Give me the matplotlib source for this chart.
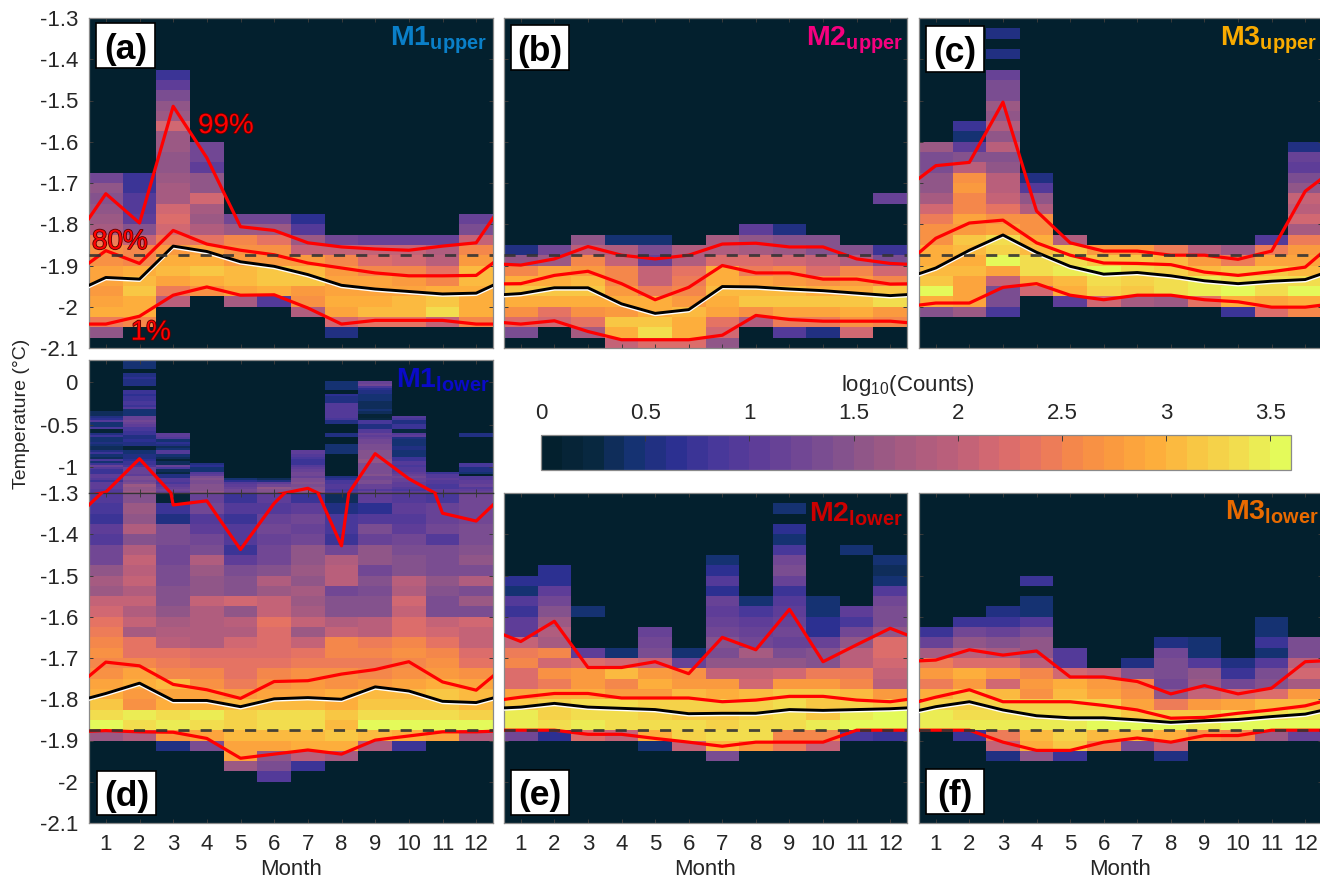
# monthly temperature histograms for the six moorings, log10 counts per 0.025 degC bin
import numpy as np
import matplotlib
matplotlib.use('Agg')
import matplotlib.pyplot as plt
import matplotlib.patheffects as pe
from matplotlib.colors import LinearSegmentedColormap, Normalize
from matplotlib.cm import ScalarMappable
from matplotlib.patches import Rectangle

plt.rcParams['font.family'] = ['Liberation Sans', 'DejaVu Sans']
plt.rcParams['mathtext.fontset'] = 'custom'
plt.rcParams['mathtext.rm'] = 'Liberation Sans'
plt.rcParams['mathtext.bf'] = 'Liberation Sans:bold'
plt.rcParams['mathtext.default'] = 'regular'

months = [1, 2, 3, 4, 5, 6, 7, 8, 9, 10, 11, 12]
freezing = -1.875

# histogram columns: first filled row of each month (row 0 is the top bin) and
# the colour level of the rows below it, level = 10 * log10(counts)
a_top = [15, 15, 5, 12, 19, 19, 19, 21, 21, 21, 21, 19]
a_levels = [
    [12, 15, 14, 15, 16, 17, 24, 26, 26, 28, 28, 27, 28, 29, 24, 15],
    [7, 7, 9, 9, 10, 14, 20, 25, 25, 29, 30, 31, 29, 29, 25],
    [7, 10, 13, 15, 16, 21, 16, 16, 15, 15, 16, 17, 17, 21, 22, 21, 24, 27, 29, 30, 28, 24, 19],
    [12, 12, 10, 15, 15, 21, 17, 16, 18, 23, 28, 29, 31, 29, 26],
    [12, 16, 25, 26, 27, 30, 30, 28, 17],
    [12, 16, 23, 26, 27, 31, 31, 29, 9],
    [6, 9, 16, 20, 27, 30, 31, 27, 26, 18],
    [12, 20, 25, 27, 28, 28, 29, 28, 21, 5],
    [11, 20, 22, 25, 28, 28, 29, 30, 23],
    [11, 20, 21, 25, 27, 28, 30, 30, 23],
    [11, 18, 19, 23, 25, 29, 31, 33, 20],
    [11, 13, 20, 25, 27, 30, 30, 29, 29, 29, 25],
]
a_p99 = [-1.726, -1.797, -1.514, -1.639, -1.806, -1.815, -1.845, -1.855, -1.860, -1.863, -1.853, -1.845]
a_p80 = [-1.864, -1.895, -1.815, -1.848, -1.863, -1.874, -1.894, -1.906, -1.918, -1.925, -1.925, -1.924]
a_mid = [-1.929, -1.933, -1.853, -1.866, -1.891, -1.902, -1.922, -1.948, -1.957, -1.963, -1.969, -1.967]
a_p01 = [-2.042, -2.023, -1.972, -1.952, -1.972, -1.971, -2.003, -2.042, -2.033, -2.033, -2.033, -2.042]

b_top = [22, 22, 21, 21, 21, 22, 21, 20, 20, 21, 22, 17]
b_levels = [
    [5, 15, 25, 29, 31, 29, 26, 22, 13],
    [12, 16, 28, 29, 31, 29, 23, 21],
    [15, 19, 25, 27, 30, 31, 29, 26, 23, 17],
    [4, 18, 20, 25, 25, 27, 29, 27, 31, 29, 20],
    [4, 13, 11, 20, 20, 24, 29, 29, 31, 33, 22],
    [18, 18, 23, 24, 25, 27, 30, 29, 29, 22],
    [17, 18, 22, 29, 29, 30, 29, 28, 23, 21, 15],
    [10, 15, 17, 22, 24, 28, 30, 31, 26, 18],
    [5, 14, 16, 21, 25, 27, 30, 31, 28, 24, 9],
    [14, 14, 20, 22, 26, 29, 31, 28, 24, 5],
    [14, 18, 25, 27, 29, 31, 29, 26, 21],
    [11, 0, 0, 0, 0, 7, 13, 21, 25, 31, 33, 27, 25],
]
b_p99 = [-1.899, -1.884, -1.854, -1.875, -1.884, -1.875, -1.848, -1.846, -1.855, -1.855, -1.884, -1.895]
b_p80 = [-1.944, -1.924, -1.914, -1.944, -1.983, -1.953, -1.900, -1.918, -1.918, -1.933, -1.933, -1.945]
b_mid = [-1.968, -1.954, -1.954, -1.993, -2.016, -2.007, -1.951, -1.952, -1.957, -1.961, -1.967, -1.973]
b_p01 = [-2.042, -2.034, -2.060, -2.080, -2.080, -2.080, -2.069, -2.021, -2.031, -2.035, -2.035, -2.035]

c_top = [12, 10, 1, 15, 21, 22, 22, 22, 22, 22, 21, 12]
c_levels = [
    [16, 13, 13, 15, 15, 17, 21, 24, 26, 26, 29, 29, 30, 31, 35, 29, 14],
    [7, 4, 10, 14, 19, 26, 27, 25, 25, 28, 27, 31, 30, 29, 30, 28, 28, 28, 16],
    [5, 0, 5, 0, 11, 13, 13, 16, 15, 18, 15, 19, 14, 15, 19, 19, 20, 23, 26, 28, 33, 32, 35, 28, 20, 13, 13, 8],
    [5, 9, 15, 18, 26, 26, 29, 30, 33, 33, 28, 21],
    [18, 31, 33, 34, 30, 29, 10],
    [27, 31, 35, 33, 32, 21],
    [27, 31, 33, 32, 31, 17],
    [24, 30, 32, 33, 33, 16],
    [19, 27, 30, 34, 34, 23],
    [16, 24, 31, 33, 36, 29, 7],
    [9, 24, 28, 31, 33, 33, 28, 22],
    [5, 11, 10, 13, 15, 20, 19, 21, 17, 24, 27, 28, 30, 33, 36, 29, 25],
]
c_p99 = [-1.658, -1.650, -1.504, -1.768, -1.845, -1.865, -1.865, -1.875, -1.875, -1.885, -1.865, -1.720]
c_p80 = [-1.834, -1.797, -1.790, -1.845, -1.875, -1.894, -1.895, -1.898, -1.916, -1.924, -1.915, -1.904]
c_mid = [-1.906, -1.863, -1.826, -1.868, -1.902, -1.921, -1.917, -1.925, -1.937, -1.944, -1.938, -1.934]
c_p01 = [-1.991, -1.991, -1.953, -1.944, -1.972, -1.983, -1.972, -1.972, -1.983, -1.988, -2.001, -2.001]

# panel d has a compressed part above -1.3 with its own rows
d_hi_top = [24, 0, 34, 48, 55, 55, 42, 10, 10, 26, 52, 34]
d_hi_levels = [
    [3, 3, 5, 6, 9, 4, 4, 8, 1, 1, 5, 7, 4, 4, 5, 4, 3, 3, 5, 7, 4, 3, 8, 4, 7, 11, 9, 7, 7, 10, 10, 9, 7, 10, 10, 10, 9, 9],
    [4, 4, 4, 4, 0, 0, 5, 5, 6, 5, 5, 5, 0, 0, 7, 7, 6, 7, 7, 8, 8, 7, 9, 4, 4, 4, 11, 11, 12, 11, 10, 8, 8, 7, 7, 5, 5, 6, 5, 5, 1, 1, 4, 4, 5, 5, 6, 7, 7, 8, 11, 11, 11, 10, 13, 13, 12, 13, 16, 15, 15, 16],
    [10, 10, 9, 4, 6, 5, 3, 4, 9, 9, 4, 3, 1, 3, 3, 11, 8, 3, 2, 5, 5, 9, 9, 8, 10, 11, 12, 11],
    [5, 6, 4, 4, 9, 10, 13, 14, 13, 13, 14, 14, 14, 15],
    [4, 6, 9, 10, 11, 12, 12],
    [3, 5, 10, 12, 15, 14, 14],
    [10, 10, 9, 8, 7, 7, 7, 9, 10, 11, 12, 12, 11, 13, 13, 14, 13, 14, 14, 15],
    [4, 4, 4, 4, 0, 0, 6, 5, 5, 5, 9, 9, 9, 9, 9, 9, 9, 8, 5, 5, 0, 0, 0, 0, 5, 5, 0, 0, 0, 4, 4, 4, 4, 4, 0, 0, 0, 0, 0, 0, 0, 0, 0, 0, 5, 6, 8, 8, 9, 9, 8, 9],
    [11, 12, 8, 6, 5, 5, 4, 4, 4, 3, 3, 3, 3, 4, 3, 1, 1, 2, 8, 8, 5, 5, 9, 9, 11, 10, 11, 12, 12, 13, 13, 13, 14, 14, 14, 14, 15, 15, 13, 13, 13, 13, 13, 14, 12, 12, 13, 13, 11, 11, 9, 11],
    [9, 8, 5, 5, 7, 7, 2, 2, 9, 10, 5, 4, 4, 4, 5, 5, 4, 4, 4, 7, 7, 9, 9, 8, 9, 9, 10, 11, 12, 11, 11, 10, 10, 9, 8, 10],
    [7, 9, 9, 10, 9, 9, 8, 8, 10, 10],
    [5, 5, 0, 0, 0, 0, 0, 0, 0, 0, 0, 0, 0, 0, 8, 8, 5, 5, 4, 0, 9, 9, 10, 10, 11, 9, 10, 11],
]
d_top = [0, 0, 0, 0, 0, 0, 0, 0, 0, 0, 0, 0]
d_levels = [
    [9, 8, 7, 10, 9, 12, 12, 15, 17, 16, 20, 21, 23, 24, 25, 26, 25, 26, 28, 29, 31, 33, 35, 16],
    [14, 16, 15, 18, 14, 18, 20, 19, 20, 18, 20, 18, 20, 17, 23, 23, 25, 28, 29, 27, 26, 34, 33, 18],
    [1, 7, 5, 13, 13, 12, 12, 13, 13, 14, 14, 15, 17, 18, 19, 23, 24, 25, 30, 28, 29, 33, 34, 27, 5],
    [11, 12, 9, 10, 12, 13, 18, 16, 15, 15, 20, 18, 18, 18, 18, 22, 23, 25, 26, 28, 29, 34, 33, 28, 13],
    [7, 9, 7, 9, 9, 7, 10, 13, 14, 14, 21, 15, 19, 18, 21, 22, 23, 23, 24, 27, 30, 32, 32, 30, 28, 28, 16],
    [10, 9, 11, 12, 11, 12, 12, 14, 18, 16, 20, 20, 23, 22, 22, 22, 23, 25, 26, 28, 30, 33, 33, 30, 28, 15, 13, 9],
    [7, 10, 12, 11, 12, 15, 15, 16, 15, 17, 16, 17, 20, 16, 20, 23, 24, 26, 27, 28, 30, 33, 33, 30, 29, 19, 7],
    [3, 5, 8, 8, 7, 12, 18, 19, 19, 12, 14, 14, 18, 20, 25, 25, 24, 26, 26, 29, 29, 31, 30, 31, 29, 17],
    [10, 6, 9, 13, 11, 15, 15, 12, 14, 13, 14, 14, 19, 19, 24, 25, 24, 25, 27, 30, 31, 33, 35, 30, 18],
    [9, 10, 9, 10, 12, 13, 14, 14, 19, 18, 21, 20, 22, 22, 25, 26, 25, 26, 28, 30, 31, 33, 35, 29, 7],
    [8, 11, 11, 12, 9, 13, 13, 13, 15, 14, 13, 13, 20, 21, 23, 25, 26, 27, 29, 31, 31, 33, 36, 28],
    [12, 12, 12, 13, 13, 14, 15, 13, 18, 13, 16, 13, 21, 20, 20, 22, 23, 26, 28, 30, 30, 32, 36, 18],
]
d_p99 = [-1.29, -0.898, -1.329, -1.319, -1.437, -1.325, -1.245, -1.428, -0.839, -1.133, -1.349, -1.368]
d_p80 = [-1.710, -1.719, -1.764, -1.777, -1.798, -1.757, -1.755, -1.739, -1.728, -1.709, -1.758, -1.778]
d_mid = [-1.786, -1.761, -1.803, -1.803, -1.818, -1.799, -1.796, -1.800, -1.770, -1.780, -1.805, -1.808]
d_p01 = [-1.876, -1.879, -1.880, -1.895, -1.943, -1.933, -1.923, -1.933, -1.899, -1.889, -1.879, -1.879]

e_top = [8, 7, 11, 15, 13, 15, 6, 10, 1, 10, 5, 6]
e_levels = [
    [6, 4, 9, 7, 10, 10, 20, 24, 25, 22, 22, 28, 31, 34, 34, 12],
    [6, 6, 10, 12, 14, 16, 18, 17, 25, 21, 26, 24, 29, 32, 32, 33, 6],
    [4, 0, 0, 0, 10, 22, 27, 27, 29, 33, 33, 34, 22],
    [4, 21, 30, 25, 27, 33, 33, 33, 20],
    [11, 12, 13, 20, 27, 29, 27, 32, 32, 33, 29, 4],
    [4, 11, 26, 27, 30, 32, 31, 33, 32, 20],
    [4, 6, 9, 6, 11, 10, 11, 12, 14, 13, 15, 20, 27, 29, 32, 31, 32, 33, 30, 13],
    [4, 8, 10, 11, 12, 17, 15, 20, 21, 30, 32, 32, 33, 33, 27],
    [4, 0, 6, 4, 8, 12, 13, 11, 7, 9, 10, 11, 12, 11, 13, 15, 21, 27, 31, 33, 33, 33, 25, 24],
    [4, 4, 6, 6, 11, 14, 14, 24, 27, 31, 31, 31, 34, 25, 20],
    [4, 0, 0, 0, 0, 0, 10, 8, 12, 15, 19, 19, 24, 25, 30, 32, 34, 35, 8],
    [4, 3, 4, 9, 12, 13, 13, 15, 22, 22, 21, 20, 19, 27, 31, 35, 36, 7],
]
e_p99 = [-1.660, -1.611, -1.723, -1.723, -1.709, -1.738, -1.650, -1.680, -1.582, -1.709, -1.668, -1.628]
e_p80 = [-1.795, -1.786, -1.786, -1.797, -1.797, -1.797, -1.806, -1.802, -1.793, -1.793, -1.802, -1.806]
e_mid = [-1.819, -1.810, -1.819, -1.822, -1.825, -1.835, -1.834, -1.834, -1.825, -1.827, -1.825, -1.823]
e_p01 = [-1.875, -1.875, -1.885, -1.885, -1.895, -1.904, -1.914, -1.904, -1.904, -1.904, -1.875, -1.875]

f_top = [13, 12, 11, 8, 15, 17, 16, 14, 14, 16, 12, 14]
f_levels = [
    [7, 11, 17, 24, 27, 24, 29, 32, 34, 34],
    [7, 12, 15, 19, 22, 29, 27, 31, 32, 33, 34, 7],
    [5, 7, 11, 14, 17, 22, 27, 21, 30, 32, 33, 34, 24, 20, 5],
    [7, 0, 4, 4, 9, 13, 15, 15, 19, 25, 27, 26, 32, 33, 34, 30, 29, 15],
    [9, 9, 21, 29, 30, 32, 33, 34, 32, 31, 7],
    [20, 27, 28, 32, 33, 36, 30, 25],
    [5, 14, 25, 26, 28, 31, 35, 30, 13],
    [5, 12, 13, 13, 12, 15, 24, 31, 35, 29, 20, 5],
    [4, 4, 9, 15, 16, 20, 27, 31, 34, 26],
    [5, 7, 12, 21, 28, 33, 35, 25],
    [4, 4, 7, 4, 9, 13, 14, 22, 30, 33, 35, 16],
    [13, 13, 19, 21, 17, 27, 30, 34, 35, 11],
]
f_p99 = [-1.705, -1.680, -1.693, -1.683, -1.746, -1.746, -1.757, -1.787, -1.767, -1.787, -1.773, -1.709]
f_p80 = [-1.795, -1.777, -1.806, -1.806, -1.806, -1.815, -1.826, -1.846, -1.844, -1.834, -1.826, -1.816]
f_mid = [-1.818, -1.806, -1.826, -1.840, -1.845, -1.845, -1.850, -1.856, -1.852, -1.849, -1.842, -1.836]
f_p01 = [-1.875, -1.875, -1.904, -1.924, -1.924, -1.904, -1.894, -1.904, -1.888, -1.888, -1.875, -1.875]

low_ticks = [-1.3, -1.4, -1.5, -1.6, -1.7, -1.8, -1.9, -2, -2.1]
hi_ticks = [0, -0.5, -1]
cbar_ticks = [0, 0.5, 1, 1.5, 2, 2.5, 3, 3.5]

cmap_colors = ['#03202e', '#08283f', '#143270', '#2a2f90', '#46379a', '#5b3c99', '#6e4595',
               '#80508f', '#965885', '#ac5c80', '#bd607a', '#d66a70', '#e87560', '#f68a48',
               '#fb9c3e', '#fdb03c', '#f8c845', '#f2de4e', '#e4fa5a']
thermal = LinearSegmentedColormap.from_list('thermal36', cmap_colors, N=36)

W, H = 1320, 881
fig = plt.figure(figsize=(13.2, 8.81), dpi=100)


def px_axes(left, top, right, bottom):
    return fig.add_axes([left / W, 1 - bottom / H, (right - left) / W, (bottom - top) / H])


def draw_hist(ax, tops, levels, y_hi, y_lo, n_rows):
    # rows run from the top of the axis down
    grid = np.zeros((n_rows, 12))
    for m in range(12):
        vals = levels[m]
        grid[tops[m]:tops[m] + len(vals), m] = vals
    x_edges = np.arange(0.5, 13, 1)
    y_edges = np.linspace(y_hi, y_lo, n_rows + 1)
    # + 0.5 puts a level in the middle of its colour band
    ax.pcolormesh(x_edges, y_edges, (grid + 0.5) / 10, cmap=thermal, vmin=0, vmax=3.6, shading='flat')
    ax.set_xlim(0.5, 12.5)
    ax.set_ylim(y_lo, y_hi)
    ax.set_xticks(months)
    ax.tick_params(direction='in', top=True, right=True, length=3, width=0.7, color='#3a3a3a',
                   labelleft=False, labelbottom=False, pad=8, labelsize=16, labelcolor='#262626')
    for s in ax.spines.values():
        s.set_color('#8a8a8a')
        s.set_linewidth(0.9)


def draw_lines(ax, p99, p80, mid, p01):
    # the year wraps: December sits left of January and January right of December
    xs = [0] + months + [13]
    for v in (p99, p80, p01):
        ax.plot(xs, [v[-1]] + v + [v[0]], color='#ff0000', lw=2.3, zorder=3)
    ax.plot(xs, [mid[-1]] + mid + [mid[0]], color='black', lw=2.1, zorder=4,
            path_effects=[pe.Stroke(linewidth=2.5, foreground='white', offset=(0, -0.8)), pe.Normal()])
    ax.axhline(freezing, color='#333333', lw=2, ls=(0, (4, 4)), alpha=0.9, zorder=5)


def panel_tag(ax, text, left, top, right, bottom):
    fig.add_artist(Rectangle((left / W, 1 - bottom / H), (right - left) / W, (bottom - top) / H,
                             transform=fig.transFigure, fc='white', ec='black', lw=1.2, zorder=6))
    fig.text((left + right) / 2 / W, 1 - (top + bottom) / 2 / H, text, fontsize=25.5, fontweight='bold',
             ha='center', va='center_baseline', color='black', zorder=7)


def site_label(text, color, right, baseline):
    fig.text(right / W, 1 - baseline / H, r'$\mathbf{' + text + '}$', color=color, fontsize=20.5,
             ha='right', va='baseline', zorder=7)


ax_a = px_axes(89, 18, 493, 348)
ax_b = px_axes(504, 18, 907, 348)
ax_c = px_axes(919, 18, 1322, 348)
ax_e = px_axes(504, 493, 907, 823)
ax_f = px_axes(919, 493, 1322, 823)
ax_d_hi = px_axes(89, 360, 493, 493)
ax_d = px_axes(89, 493, 493, 823)

draw_hist(ax_a, a_top, a_levels, -1.3, -2.1, 32)
draw_hist(ax_b, b_top, b_levels, -1.3, -2.1, 32)
draw_hist(ax_c, c_top, c_levels, -1.3, -2.1, 32)
draw_hist(ax_d, d_top, d_levels, -1.3, -2.1, 32)
draw_hist(ax_e, e_top, e_levels, -1.3, -2.1, 32)
draw_hist(ax_f, f_top, f_levels, -1.3, -2.1, 32)
draw_hist(ax_d_hi, d_hi_top, d_hi_levels, 0.26, -1.3, 62)

draw_lines(ax_a, a_p99, a_p80, a_mid, a_p01)
draw_lines(ax_b, b_p99, b_p80, b_mid, b_p01)
draw_lines(ax_c, c_p99, c_p80, c_mid, c_p01)
draw_lines(ax_d, d_p99, d_p80, d_mid, d_p01)
draw_lines(ax_e, e_p99, e_p80, e_mid, e_p01)
draw_lines(ax_f, f_p99, f_p80, f_mid, f_p01)
# only the warm percentile reaches the compressed part of panel d
ax_d_hi.plot([0] + months + [13], [d_p99[-1]] + d_p99 + [d_p99[0]], color='#ff0000', lw=2.3, zorder=3)
# dark seam between the two parts of panel d
ax_d.spines['top'].set_color('#333333')
ax_d_hi.spines['bottom'].set_color('#333333')

for ax in (ax_a, ax_b, ax_c, ax_d, ax_e, ax_f):
    ax.set_yticks(low_ticks)
for ax in (ax_a, ax_d):
    ax.set_yticklabels([str(t) for t in low_ticks])
    ax.tick_params(labelleft=True)
ax_d_hi.set_yticks(hi_ticks)
ax_d_hi.set_yticklabels([str(t) for t in hi_ticks])
ax_d_hi.tick_params(labelleft=True)

for ax in (ax_d, ax_e, ax_f):
    ax.set_xticklabels([str(m) for m in months])
    ax.tick_params(labelbottom=True)
    ax.set_xlabel('Month', fontsize=16, color='#262626', labelpad=3)

fig.text(22 / W, 1 - 414 / H, 'Temperature (°C)', rotation=90, fontsize=14, ha='center', va='center',
         color='#262626')

# percentile labels on panel a
outline = [pe.withStroke(linewidth=1.2, foreground='#5a0000')]
ax_a.text(3.74, -1.579, '99%', color='#ff0000', fontsize=20, path_effects=outline, zorder=6)
ax_a.text(0.59, -1.86, '80%', color='#ff0000', fontsize=20, path_effects=outline, zorder=6)
ax_a.text(1.74, -2.08, '1%', color='#ff0000', fontsize=20, path_effects=outline, zorder=6)

panel_tag(ax_a, '(a)', 96, 23, 155, 68)
panel_tag(ax_b, '(b)', 511, 25, 569, 70)
panel_tag(ax_c, '(c)', 926, 26, 984, 72)
panel_tag(ax_d, '(d)', 97, 771, 156, 815)
panel_tag(ax_e, '(e)', 511, 770, 569, 815)
panel_tag(ax_f, '(f)', 926, 769, 984, 814)

site_label('M1_{upper}', '#0a7fc8', 487, 45)
site_label('M2_{upper}', '#f5007e', 903, 46)
site_label('M3_{upper}', '#f9ab00', 1317, 46)
site_label('M1_{lower}', '#0a0ac8', 490, 388)
site_label('M2_{lower}', '#cc0000', 903, 522)
site_label('M3_{lower}', '#e86a00', 1319, 520)

# colour bar between the panels
cax = px_axes(541, 435, 1291, 470)
cb = fig.colorbar(ScalarMappable(Normalize(0, 3.6), thermal), cax=cax, orientation='horizontal',
                  ticklocation='top')
cb.set_ticks(cbar_ticks)
cb.set_ticklabels([str(t) for t in cbar_ticks])
cb.ax.tick_params(direction='in', length=4, width=0.7, color='#3a3a3a', labelsize=16, pad=8,
                  labelcolor='#262626')
cb.outline.set_edgecolor('#8a8a8a')
cb.outline.set_linewidth(0.9)
fig.text(908 / W, 1 - 385 / H, 'log$_{10}$(Counts)', fontsize=16, ha='center', va='center', color='#262626')

fig.savefig('out.png', dpi=100, facecolor='white')
